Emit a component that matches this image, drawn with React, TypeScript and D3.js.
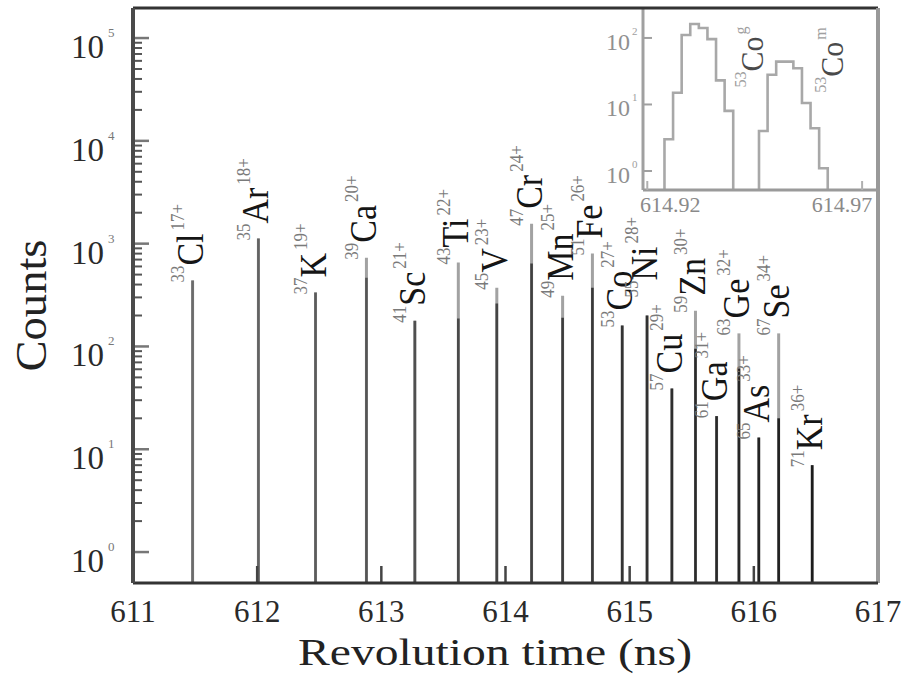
import React from 'react';
import * as d3 from 'd3';

const W = 908;
const H = 675;

// Main spectrum: T_z = -1/2 nuclei, fully stripped
const masses = ['33', '35', '37', '39', '41', '43', '45', '47', '49', '51', '53', '55', '57', '59', '61', '63', '65', '67', '71'];
const elements = ['Cl', 'Ar', 'K', 'Ca', 'Sc', 'Ti', 'V', 'Cr', 'Mn', 'Fe', 'Co', 'Ni', 'Cu', 'Zn', 'Ga', 'Ge', 'As', 'Se', 'Kr'];
const charges = ['17+', '18+', '19+', '20+', '21+', '22+', '23+', '24+', '25+', '26+', '27+', '28+', '29+', '30+', '31+', '32+', '33+', '34+', '36+'];
const revTimes = [611.48, 612.01, 612.47, 612.88, 613.27, 613.62, 613.93, 614.21, 614.46, 614.70, 614.94, 615.14, 615.34, 615.53, 615.70, 615.88, 616.04, 616.20, 616.47];
const peakCounts = [437, 1120, 334, 730, 178, 655, 373, 1560, 312, 800, 160, 200, 39, 223, 21, 134, 13, 134, 7];
const shoulderCounts = [437, 1120, 334, 465, 178, 187, 262, 640, 190, 373, 160, 200, 39, 95, 21, 61, 13, 20, 7];

const xTicks = [611, 612, 613, 614, 615, 616, 617];
const yTicks = [1, 10, 100, 1000, 10000, 100000];
const yTickExps = ['0', '1', '2', '3', '4', '5'];

// Inset: 53Co ground state and isomer
const insetEdgesA = [614.924, 614.926, 614.928, 614.930, 614.932, 614.934, 614.936, 614.938, 614.940];
const insetCountsA = [3, 15, 111, 162, 141, 96, 23, 8];
const insetEdgesB = [614.946, 614.948, 614.950, 614.952, 614.954, 614.956, 614.958, 614.960, 614.962];
const insetCountsB = [4, 28, 44, 44, 35, 10.5, 4.4, 1.1];
const insetXTicks = [614.92, 614.97];
const insetYTicks = [1, 10, 100];
const insetYTickExps = ['0', '1', '2'];
const insetLabelMass = ['53', '53'];
const insetLabelEl = ['Co', 'Co'];
const insetLabelState = ['g', 'm'];
const insetLabelTimes = [614.9469, 614.9656];
const insetLabelCounts = [18, 15];

const serif = '"Liberation Serif", "Times New Roman", Times, serif';

export default function App() {
  const xs = d3.scaleLinear().domain([611, 617]).range([133, 878]);
  const ys = d3.scaleLog().domain([0.5, 1.96e5]).range([583, 8]);
  const ix = d3.scaleLinear().domain([614.919, 614.9737]).range([643, 878]);
  const iy = d3.scaleLog().domain([0.518, 282]).range([190, 8]);
  const shade = d3.scaleLinear<string>().domain([611.4, 616.5]).range(['#6c6c6c', '#1c1c1c']).interpolate(d3.interpolateRgb);

  const [yBottom, yTop] = ys.range();
  const [xLeft, xRight] = xs.range();
  const [iLeft, iRight] = ix.range();
  const [iBottom] = iy.range();

  const minorTicks = ys.ticks().filter((v) => v >= 1 && v <= 1e5 && !yTicks.some((t) => Math.abs(t - v) < 1e-9));

  // label start positions: just above the peak, nudged up when crowding the left neighbour
  const labelStarts: number[] = [];
  revTimes.forEach((t, i) => {
    let s = ys(peakCounts[i]) + 2;
    if (i > 0) {
      const prev = labelStarts[i - 1];
      const dx = xs(t) - xs(revTimes[i - 1]);
      if (dx < 30 && s > prev - 30 && s < prev + 40) s = prev - 30;
    }
    labelStarts.push(s);
  });

  const stepPath = (edges: number[], counts: number[]) => {
    let d = `M${ix(edges[0])},${iBottom}`;
    counts.forEach((c, i) => {
      d += `V${iy(c)}H${ix(edges[i + 1])}`;
    });
    d += `V${iBottom}`;
    return d;
  };

  return (
    <svg
      width={W}
      height={H}
      viewBox={`0 0 ${W} ${H}`}
      style={{ position: 'absolute', left: 0, top: 0, background: '#fff' }}
    >
      <rect x={0} y={0} width={W} height={H} fill="#fff" />

      {/* peaks */}
      {revTimes.map((t, i) => (
        <g key={`p${i}`}>
          <line x1={xs(t)} x2={xs(t)} y1={yBottom} y2={ys(peakCounts[i])} stroke="#a2a2a2" strokeWidth={3} />
          <line x1={xs(t)} x2={xs(t)} y1={yBottom} y2={ys(shoulderCounts[i])} stroke={shade(t)} strokeWidth={2.6} />
        </g>
      ))}

      {/* x ticks (inward) */}
      {xTicks.slice(1, -1).map((v) => (
        <line key={`xt${v}`} x1={xs(v)} x2={xs(v)} y1={yBottom} y2={yBottom - 17} stroke="#444" strokeWidth={2.5} />
      ))}

      {/* y ticks */}
      {yTicks.map((v) => (
        <line key={`yt${v}`} x1={xLeft} x2={xLeft + 16} y1={ys(v)} y2={ys(v)} stroke="#777" strokeWidth={2.5} />
      ))}
      {minorTicks.map((v) => (
        <line key={`ym${v}`} x1={xLeft} x2={xLeft + 9} y1={ys(v)} y2={ys(v)} stroke="#555" strokeWidth={2} />
      ))}

      {/* peak labels */}
      {revTimes.map((t, i) => (
        <g key={`l${i}`} transform={`translate(${xs(t) + 10},${labelStarts[i]}) rotate(-90) scale(1,1.1)`}>
          <text fontFamily={serif} fill="#151515">
            <tspan fontSize={17} dy={-17} fill="#7a7a7a">{masses[i]}</tspan>
            <tspan fontSize={34} dy={17}>{elements[i]}</tspan>
            <tspan fontSize={17} dy={-17} dx={3} fill="#7a7a7a">{charges[i]}</tspan>
          </text>
        </g>
      ))}

      {/* inset */}
      <rect x={iLeft} y={yTop} width={iRight - iLeft} height={iBottom - yTop} fill="#fff" />
      <path d={stepPath(insetEdgesA, insetCountsA)} fill="none" stroke="#a8a8a8" strokeWidth={2.6} />
      <path d={stepPath(insetEdgesB, insetCountsB)} fill="none" stroke="#a8a8a8" strokeWidth={2.6} />
      <line x1={iLeft} x2={iLeft} y1={yTop} y2={iBottom} stroke="#a0a0a0" strokeWidth={3} />
      <line x1={iLeft} x2={iRight} y1={iBottom} y2={iBottom} stroke="#9a9a9a" strokeWidth={3} />
      {insetYTicks.map((v, i) => (
        <g key={`iyt${v}`}>
          <line x1={iLeft} x2={iLeft + 9} y1={iy(v)} y2={iy(v)} stroke="#a0a0a0" strokeWidth={2} />
          <text x={iLeft - 13} y={iy(v) + 12} fontFamily={serif} fontSize={24} fill="#909090" textAnchor="end">10</text>
          <text x={iLeft - 11} y={iy(v) - 3} fontFamily={serif} fontSize={11} fill="#a0a0a0">{insetYTickExps[i]}</text>
        </g>
      ))}
      {insetXTicks.map((v, i) => (
        <g key={`ixt${v}`}>
          <line x1={ix(v)} x2={ix(v)} y1={iBottom} y2={iBottom - 9} stroke="#b0b0b0" strokeWidth={2} />
          <text
            x={ix(v) + (i === 0 ? 23 : -20)}
            y={iBottom + 22}
            fontFamily={serif}
            fontSize={22}
            fill="#8a8a8a"
            textAnchor="middle"
          >
            {v.toFixed(2)}
          </text>
        </g>
      ))}
      {insetLabelTimes.map((t, i) => (
        <g key={`il${i}`} transform={`translate(${ix(t)},${iy(insetLabelCounts[i])}) rotate(-90) scale(1,1.05)`}>
          <text fontFamily={serif} fill="#4a4a4a">
            <tspan fontSize={16} dy={-16} fill="#a0a0a0">{insetLabelMass[i]}</tspan>
            <tspan fontSize={30} dy={16}>{insetLabelEl[i]}</tspan>
            <tspan fontSize={16} dy={-16} dx={2} fill="#a0a0a0">{insetLabelState[i]}</tspan>
          </text>
        </g>
      ))}

      {/* frame */}
      <line x1={xLeft} x2={xRight} y1={yTop} y2={yTop} stroke="#333" strokeWidth={3} />
      <line x1={xRight} x2={xRight} y1={yTop} y2={yBottom} stroke="#999" strokeWidth={4} />
      <line x1={xLeft} x2={xRight} y1={yBottom} y2={yBottom} stroke="#333" strokeWidth={3} />
      <line x1={xLeft} x2={xLeft} y1={yTop} y2={yBottom} stroke="#4a4a4a" strokeWidth={4} />

      {/* y tick labels */}
      {yTicks.map((v, i) => (
        <g key={`yl${v}`}>
          <text x={xLeft - 29} y={ys(v) + 20} fontFamily={serif} fontSize={33} fill="#2a2a2a" textAnchor="end">10</text>
          <text x={xLeft - 25} y={ys(v) - 1} fontFamily={serif} fontSize={13} fill="#777">{yTickExps[i]}</text>
        </g>
      ))}

      {/* x tick labels */}
      {xTicks.map((v) => (
        <text key={`xl${v}`} x={xs(v)} y={622} fontFamily={serif} fontSize={31} fill="#2a2a2a" textAnchor="middle">
          {v}
        </text>
      ))}

      {/* axis titles */}
      <text
        x={495}
        y={665}
        fontFamily={serif}
        fontSize={38}
        fill="#222"
        textAnchor="middle"
        textLength={394}
        lengthAdjust="spacingAndGlyphs"
      >
        Revolution time (ns)
      </text>
      <text
        transform={`translate(46,${(yTop + yBottom) / 2 + 10}) rotate(-90)`}
        fontFamily={serif}
        fontSize={44}
        fill="#222"
        textAnchor="middle"
        textLength={132}
        lengthAdjust="spacingAndGlyphs"
      >
        Counts
      </text>
    </svg>
  );
}
